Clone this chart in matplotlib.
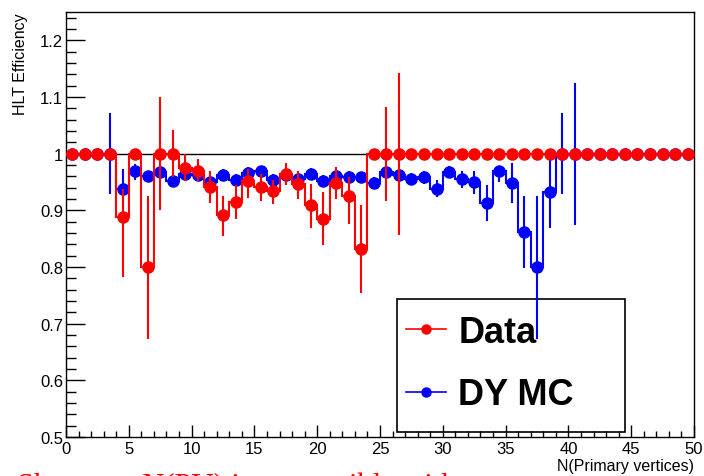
import numpy as np
import matplotlib
matplotlib.use("Agg")
import matplotlib.pyplot as plt
from matplotlib.lines import Line2D
from matplotlib.patches import Rectangle
from matplotlib.ticker import MultipleLocator, FormatStrFormatter

# bin edges of N(PV), one bin per vertex count
edges = np.arange(0, 51, 1)

data_eff = [1.0, 1.0, 1.0, 1.0, 0.888, 1.0, 0.800, 1.0, 1.0, 0.975,
            0.970, 0.941, 0.891, 0.914, 0.951, 0.941, 0.935, 0.965, 0.946, 0.909,
            0.885, 0.948, 0.926, 0.832, 1.0, 1.0, 1.0, 1.0, 1.0, 1.0,
            1.0, 1.0, 1.0, 1.0, 1.0, 1.0, 1.0, 1.0, 1.0, 1.0,
            1.0, 1.0, 1.0, 1.0, 1.0, 1.0, 1.0, 1.0, 1.0, 1.0]
data_up = [0, 0, 0, 0, 0.050, 0, 0.126, 0.100, 0.041, 0.025,
           0.021, 0.028, 0.035, 0.030, 0.022, 0.024, 0.018, 0.019, 0.024, 0.038,
           0.048, 0.028, 0.033, 0.077, 0, 0.083, 0.143, 0, 0, 0,
           0, 0, 0, 0, 0, 0, 0, 0, 0, 0,
           0, 0, 0, 0, 0, 0, 0, 0, 0, 0]
data_lo = [0, 0, 0, 0, 0.106, 0, 0.127, 0.100, 0.041, 0.024,
           0.019, 0.028, 0.036, 0.029, 0.029, 0.025, 0.023, 0.021, 0.026, 0.041,
           0.047, 0.028, 0.050, 0.077, 0, 0.084, 0.143, 0, 0, 0,
           0, 0, 0, 0, 0, 0, 0, 0, 0, 0,
           0, 0, 0, 0, 0, 0, 0, 0, 0, 0]

mc_eff = [1.0, 1.0, 1.0, 1.0, 0.938, 0.969, 0.960, 0.968, 0.952, 0.965,
          0.963, 0.950, 0.963, 0.954, 0.966, 0.969, 0.954, 0.962, 0.956, 0.965,
          0.952, 0.961, 0.959, 0.958, 0.948, 0.968, 0.962, 0.956, 0.959, 0.938,
          0.968, 0.955, 0.950, 0.913, 0.970, 0.949, 0.861, 0.800, 0.932, 1.0,
          1.0, 1.0, 1.0, 1.0, 1.0, 1.0, 1.0, 1.0, 1.0, 1.0]
mc_up = [0, 0, 0, 0.072, 0.035, 0.013, 0.010, 0.010, 0.010, 0.010,
         0.010, 0.010, 0.010, 0.010, 0.010, 0.010, 0.010, 0.010, 0.010, 0.010,
         0.010, 0.010, 0.010, 0.010, 0.010, 0.010, 0.010, 0.010, 0.010, 0.015,
         0.010, 0.015, 0.019, 0.031, 0.009, 0.035, 0.064, 0.125, 0.068, 0.071,
         0.125, 0, 0, 0, 0, 0, 0, 0, 0, 0]
mc_lo = [0, 0, 0, 0.071, 0.032, 0.016, 0.010, 0.010, 0.010, 0.010,
         0.010, 0.010, 0.010, 0.010, 0.010, 0.010, 0.010, 0.010, 0.010, 0.010,
         0.010, 0.010, 0.010, 0.010, 0.010, 0.010, 0.010, 0.012, 0.012, 0.015,
         0.010, 0.016, 0.021, 0.031, 0.020, 0.036, 0.063, 0.127, 0.064, 0.071,
         0.125, 0, 0, 0, 0, 0, 0, 0, 0, 0]

centers = 0.5 * (edges[:-1] + edges[1:])

plt.rcParams['font.family'] = ['Liberation Sans', 'DejaVu Sans']

fig = plt.figure(figsize=(7.04, 4.77), dpi=100)
ax = fig.add_axes([66 / 704, 39 / 477, 628 / 704, 425 / 477])

# reference line at 1 over the first half
ax.hlines(1.0, 0, 24, color='black', lw=1.0, zorder=1)

# MC first, data on top
ax.stairs(mc_eff, edges, baseline=None, color='blue', lw=1.5, zorder=2)
ax.errorbar(centers, mc_eff, yerr=[mc_lo, mc_up], fmt='o', color='blue',
            ms=8, elinewidth=1.5, capsize=0, zorder=3)
ax.stairs(data_eff, edges, baseline=None, color='red', lw=1.5, zorder=4)
ax.errorbar(centers, data_eff, yerr=[data_lo, data_up], fmt='o', color='red',
            ms=8, elinewidth=1.5, capsize=0, zorder=5)

ax.set_xlim(0, 50)
ax.set_ylim(0.5, 1.25)
ax.xaxis.set_major_locator(MultipleLocator(5))
ax.xaxis.set_minor_locator(MultipleLocator(1))
ax.yaxis.set_major_locator(MultipleLocator(0.1))
ax.yaxis.set_minor_locator(MultipleLocator(0.02))
ax.yaxis.set_major_formatter(FormatStrFormatter('%g'))
ax.tick_params(axis='x', which='major', direction='in', length=8.5, width=1, labelsize=12, pad=3)
ax.tick_params(axis='x', which='minor', direction='in', length=4.3, width=1)
ax.tick_params(axis='y', which='major', direction='in', length=13.5, width=1, labelsize=12, pad=2)
ax.tick_params(axis='y', which='minor', direction='in', length=7, width=1)
for s in ax.spines.values():
    s.set_linewidth(1.0)

ax.set_xlabel('N(Primary vertices)', fontsize=11.5, loc='right', labelpad=1)
ax.set_ylabel('HLT Efficiency', fontsize=11.5, loc='top')
ax.yaxis.set_label_coords(-0.06, 1.0)

# legend box (ROOT TLegend style), under the points so error bars show through
ax.add_patch(Rectangle((0.527, 0.012), 0.363, 0.313, transform=ax.transAxes,
                       facecolor='white', edgecolor='black', lw=1.2, zorder=0.5))
handles = [Line2D([], [], color='red', marker='o', ms=6.5, lw=1.2),
           Line2D([], [], color='blue', marker='o', ms=6.5, lw=1.2)]
leg = ax.legend(handles, ['Data', 'DY MC'], loc='upper left',
                bbox_to_anchor=(0.527, 0.308), borderaxespad=0,
                prop=dict(family='Liberation Sans', weight='bold', size=26),
                handlelength=1.1, handletextpad=0.35, labelspacing=0.75,
                borderpad=0.25, frameon=False)
leg.set_zorder(7)

# slide text running off the bottom edge
fig.text(17 / 704, -18 / 477, 'Shows an N(PV) is compatible with',
         color='red', family='Liberation Serif', fontsize=22, va='baseline')

fig.savefig('out.png', dpi=100)
